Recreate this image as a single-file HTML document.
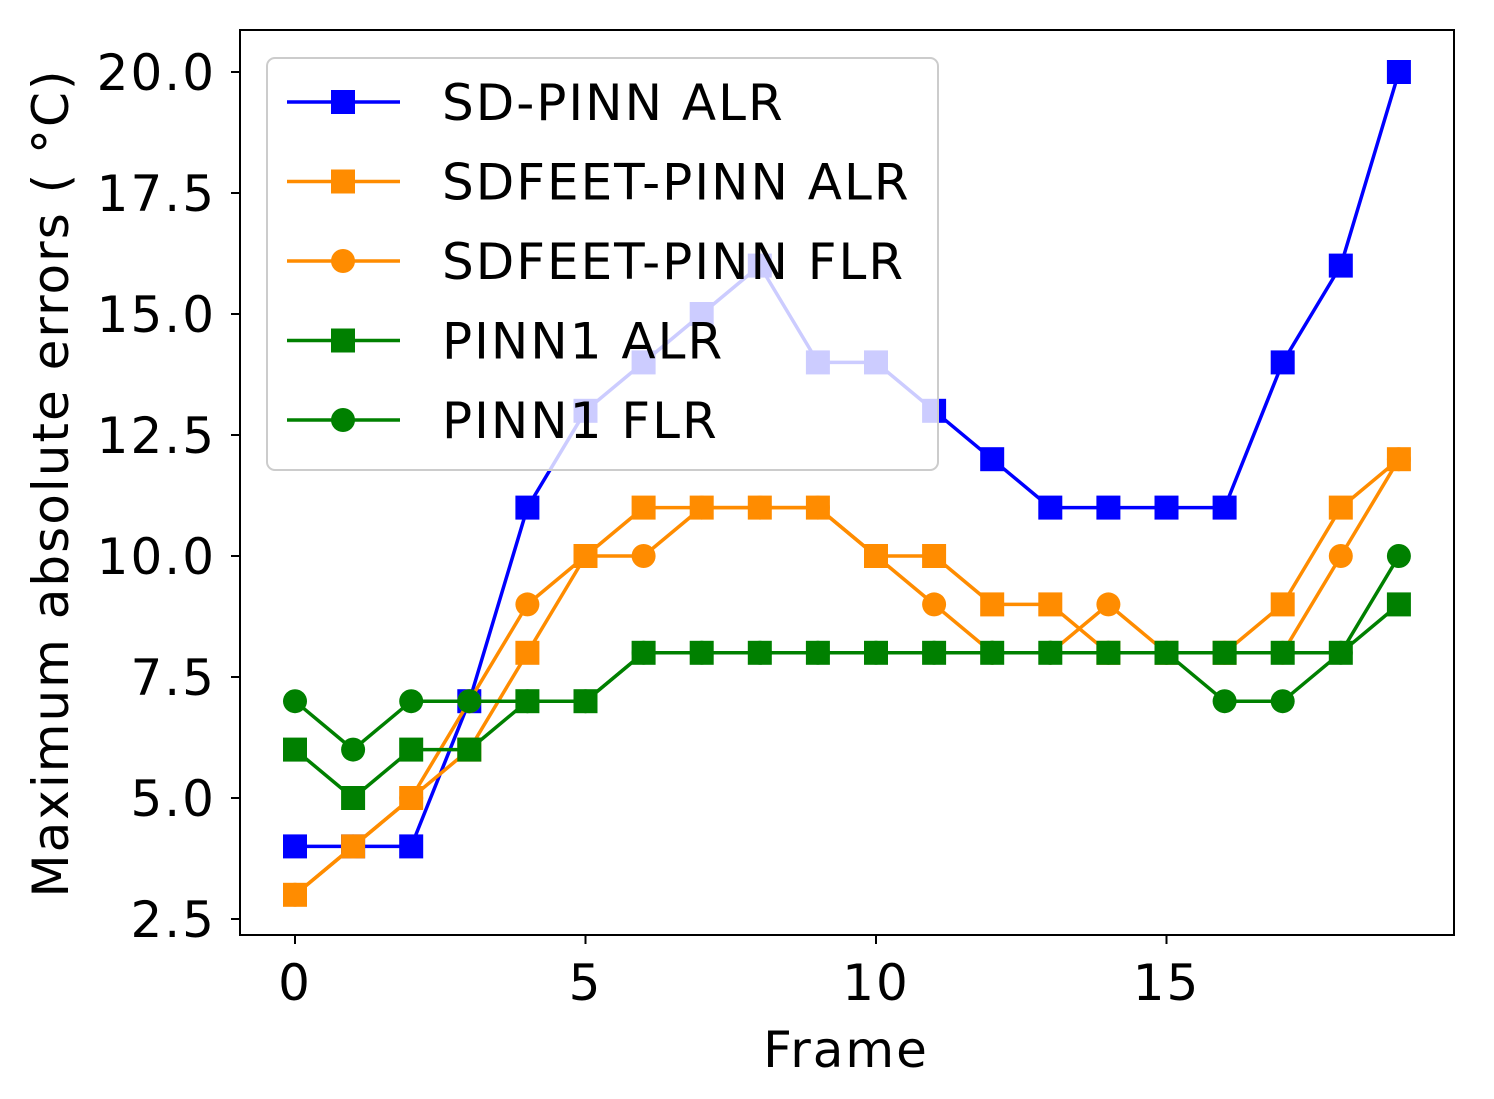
<!DOCTYPE html>
<html><head><meta charset="utf-8"><style>
body{margin:0;background:#fff;}
svg text{font-family:"DejaVu Sans","Liberation Sans",sans-serif;fill:#000;}
</style></head><body>
<svg id="chart" width="1494" height="1094" xmlns="http://www.w3.org/2000/svg">
<rect width="1494" height="1094" fill="#fff"/>
<g id="plot"></g>
<rect x="240" y="30" width="1214" height="905" fill="none" stroke="#000" stroke-width="2"/>
<g id="axes"></g>
<text x="846" y="1067" font-size="50" letter-spacing="2" text-anchor="middle">Frame</text>
<text transform="translate(68,483) rotate(-90)" font-size="50" letter-spacing="2" text-anchor="middle">Maximum absolute errors ( °C)</text>
<g id="legend"></g>
</svg>
<script>
const frames=[0,1,2,3,4,5,6,7,8,9,10,11,12,13,14,15,16,17,18,19];
const sdPinnAlr=[4,4,4,7,11,13,14,15,16,14,14,13,12,11,11,11,11,14,16,20];
const sdfeetAlr=[3,4,5,6,8,10,11,11,11,11,10,10,9,9,8,8,8,9,11,12];
const sdfeetFlr=[3,4,5,7,9,10,10,11,11,11,10,9,8,8,9,8,8,8,10,12];
const pinn1Alr=[6,5,6,6,7,7,8,8,8,8,8,8,8,8,8,8,8,8,8,9];
const pinn1Flr=[7,6,7,7,7,7,8,8,8,8,8,8,8,8,8,8,7,7,8,10];
const xTicks=[0,5,10,15];
const yTicks=[2.5,5.0,7.5,10.0,12.5,15.0,17.5,20.0];
const seriesNames=["SD-PINN ALR","SDFEET-PINN ALR","SDFEET-PINN FLR","PINN1 ALR","PINN1 FLR"];
const NS="http://www.w3.org/2000/svg";
function xs(v){return 295+(v-0)*58.1;}
function ys(v){return 919-(v-2.5)*48.4;}
function mk(tag,attrs,parent){const e=document.createElementNS(NS,tag);for(const k in attrs)e.setAttribute(k,attrs[k]);parent.appendChild(e);return e;}
const plot=document.getElementById('plot');
const series=[
 {vals:sdPinnAlr,color:"#0000ff",m:"s",id:"sd-pinn-alr"},
 {vals:sdfeetAlr,color:"#ff8c00",m:"s",id:"sdfeet-pinn-alr"},
 {vals:sdfeetFlr,color:"#ff8c00",m:"o",id:"sdfeet-pinn-flr"},
 {vals:pinn1Alr,color:"#008000",m:"s",id:"pinn1-alr"},
 {vals:pinn1Flr,color:"#008000",m:"o",id:"pinn1-flr"}];
function marker(m,x,y,color,parent){
 let e;
 if(m==="s"){e=mk('rect',{x:x-12,y:y-12,width:24,height:24,fill:color},parent);}
 else{e=mk('circle',{cx:x,cy:y,r:12,fill:color},parent);}
 return e;
}
series.forEach(s=>{
 const g=mk('g',{},plot);
 
 
 const pts=frames.map((f,i)=>xs(f)+','+ys(s.vals[i])).join(' ');
 const pl=mk('polyline',{points:pts,fill:'none',stroke:s.color,'stroke-width':3.5,'stroke-linejoin':'round'},g);
 
 
 frames.forEach((f,i)=>{
  const e=marker(s.m,xs(f),ys(s.vals[i]),s.color,g);
  
  
 });
});
const axes=document.getElementById('axes');
xTicks.forEach(t=>{
 const l=mk('line',{x1:xs(t),x2:xs(t),y1:935,y2:944,stroke:'#000','stroke-width':2},axes);
 
 
 const tx=mk('text',{x:xs(t),y:1000,'font-size':50,'letter-spacing':2,'text-anchor':'middle'},axes);
 tx.textContent=t;
 
 
});
yTicks.forEach(t=>{
 const l=mk('line',{x1:231,x2:240,y1:ys(t),y2:ys(t),stroke:'#000','stroke-width':2},axes);
 
 
 const tx=mk('text',{x:216,y:ys(t)+18,'font-size':50,'letter-spacing':2,'text-anchor':'end'},axes);
 tx.textContent=t.toFixed(1);
 
 
});
const lg=document.getElementById('legend');
const box=mk('rect',{x:267,y:58,width:671,height:412,rx:8,fill:'#fff','fill-opacity':0.8,stroke:'#ccc','stroke-width':2},lg);


series.forEach((s,i)=>{
 const y=102+i*79.5;
 const g=mk('g',{},lg);
 
 
 mk('line',{x1:287,x2:400,y1:y,y2:y,stroke:s.color,'stroke-width':3.5},g);
 marker(s.m,343,y,s.color,g);
 const t=mk('text',{x:442,y:y+18,'font-size':50,'letter-spacing':2},g);
 t.textContent=seriesNames[i];
});
</script>
</body></html>
